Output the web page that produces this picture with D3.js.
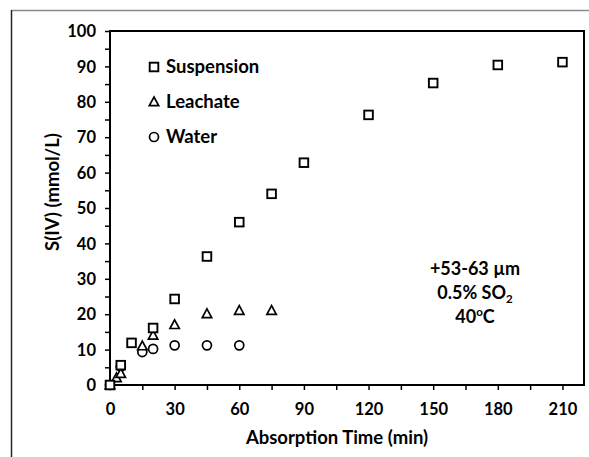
<!DOCTYPE html>
<html>
<head>
<meta charset="utf-8">
<script src="https://cdn.jsdelivr.net/npm/d3@7"></script>
<style>
  html, body { margin: 0; padding: 0; background: #fff; }
  svg { display: block; }
  text { font-family: Lato, "Open Sans", sans-serif; font-weight: bold; fill: #000; }
</style>
</head>
<body>
<svg id="chart" width="589" height="457"></svg>
<script>
// ---- data ----
const suspensionTime = [0, 5, 10, 20, 30, 45, 60, 75, 90, 120, 150, 180, 210];
const suspensionS4   = [0, 5.6, 11.9, 16.1, 24.3, 36.3, 46.0, 54.0, 62.8, 76.3, 85.3, 90.4, 91.2];
const leachateTime   = [0, 3, 5, 15, 20, 30, 45, 60, 75];
const leachateS4     = [0, 2.0, 3.2, 11.0, 14.0, 17.0, 20.1, 21.0, 21.0];
const waterTime      = [0, 5, 15, 20, 30, 45, 60];
const waterS4        = [0, 5.2, 9.3, 10.2, 11.2, 11.2, 11.2];
const seriesNames    = ["Suspension", "Leachate", "Water"];
const xTicks = [0, 30, 60, 90, 120, 150, 180, 210];
const yTicks = [0, 10, 20, 30, 40, 50, 60, 70, 80, 90, 100];
const noteLines = ["+53-63 µm", "0.5% SO2", "40oC"];

const svg = d3.select("#chart");
const L = 110, R = 584, T = 31, B = 385;
const x = d3.scaleLinear().domain([0, 220]).range([L, R]);
const y = d3.scaleLinear().domain([0, 100]).range([B, T]);

// outer chart frame (cropped)
svg.append("line").attr("x1", 11).attr("x2", 589).attr("y1", 10.5).attr("y2", 10.5)
  .attr("stroke", "#8a8a8a").attr("stroke-width", 1.5);
svg.append("line").attr("x1", 11.5).attr("x2", 11.5).attr("y1", 10).attr("y2", 457)
  .attr("stroke", "#262626").attr("stroke-width", 1.5);

// axes
const minorX = d3.range(0, 221, 15);
const minorY = d3.range(0, 101, 5);
const xAxis = d3.axisBottom(x).tickValues(minorX)
  .tickFormat(d => xTicks.includes(d) ? d : "").tickSize(5).tickSizeOuter(0);
const yAxis = d3.axisLeft(y).tickValues(minorY)
  .tickFormat(d => yTicks.includes(d) ? d : "").tickSize(5).tickSizeOuter(0);

const gx = svg.append("g").attr("transform", `translate(0,${B})`).call(xAxis);
const gy = svg.append("g").attr("transform", `translate(${L},0)`).call(yAxis);
[gx, gy].forEach(g => {
  g.select(".domain").remove();
  g.selectAll(".tick line").attr("stroke", "#000").attr("stroke-width", 1.5);
  g.selectAll(".tick text").style("font-family", "Lato, sans-serif")
    .style("font-weight", "bold").style("font-size", "16.5px").attr("fill", "#000");
});
gx.selectAll(".tick text").attr("y", 30).attr("dy", 0);
gy.selectAll(".tick text").attr("x", -14).attr("dy", "0.35em");

// plot frame
svg.append("rect").attr("x", L).attr("y", T).attr("width", R - L).attr("height", B - T)
  .attr("fill", "none").attr("stroke", "#000").attr("stroke-width", 2);

// axis titles
svg.append("text").attr("x", 337).attr("y", 444).attr("text-anchor", "middle")
  .style("font-size", "18.5px").text("Absorption Time (min)");
svg.append("text").attr("transform", `translate(59,${(T + B) / 2 - 16}) rotate(-90)`)
  .attr("text-anchor", "middle").style("font-size", "18.5px").text("S(IV) (mmol/L)");

// markers
const sw = 1.9;
function square(g, cx, cy) {
  g.append("rect").attr("x", cx - 4.3).attr("y", cy - 4.3).attr("width", 8.6).attr("height", 8.6)
    .attr("fill", "#fff").attr("stroke", "#000").attr("stroke-width", sw);
}
function triangle(g, cx, cy) {
  g.append("path").attr("d", `M${cx},${cy - 5}L${cx + 4.7},${cy + 3.7}L${cx - 4.7},${cy + 3.7}Z`)
    .attr("fill", "#fff").attr("stroke", "#000").attr("stroke-width", sw - 0.2);
}
function circle(g, cx, cy) {
  g.append("circle").attr("cx", cx).attr("cy", cy).attr("r", 4.5)
    .attr("fill", "#fff").attr("stroke", "#000").attr("stroke-width", sw - 0.2);
}
const gm = svg.append("g");
waterTime.forEach((t, i) => circle(gm, x(t), y(waterS4[i])));
leachateTime.forEach((t, i) => triangle(gm, x(t), y(leachateS4[i])));
suspensionTime.forEach((t, i) => square(gm, x(t), y(suspensionS4[i])));

// legend
const shapes = [square, triangle, circle];
seriesNames.forEach((name, i) => {
  const cy = 67 + i * 35;
  shapes[i](svg, 154, cy);
  svg.append("text").attr("x", 166).attr("y", cy).attr("dy", "0.35em")
    .style("font-size", "18.5px").text(name);
});

// note
const nx = 475;
const n1 = svg.append("text").attr("x", nx).attr("y", 275).attr("text-anchor", "middle")
  .style("font-size", "18px").text(noteLines[0]);
const n2 = svg.append("text").attr("x", nx).attr("y", 299).attr("text-anchor", "middle")
  .style("font-size", "18px");
n2.append("tspan").text("0.5% SO");
n2.append("tspan").attr("dy", 4).style("font-size", "11.5px").text("2");
const n3 = svg.append("text").attr("x", nx).attr("y", 323).attr("text-anchor", "middle")
  .style("font-size", "18px");
n3.append("tspan").text("40");
n3.append("tspan").attr("dy", -7).style("font-size", "11.5px").text("o");
n3.append("tspan").attr("dy", 7).text("C");
</script>
</body>
</html>
